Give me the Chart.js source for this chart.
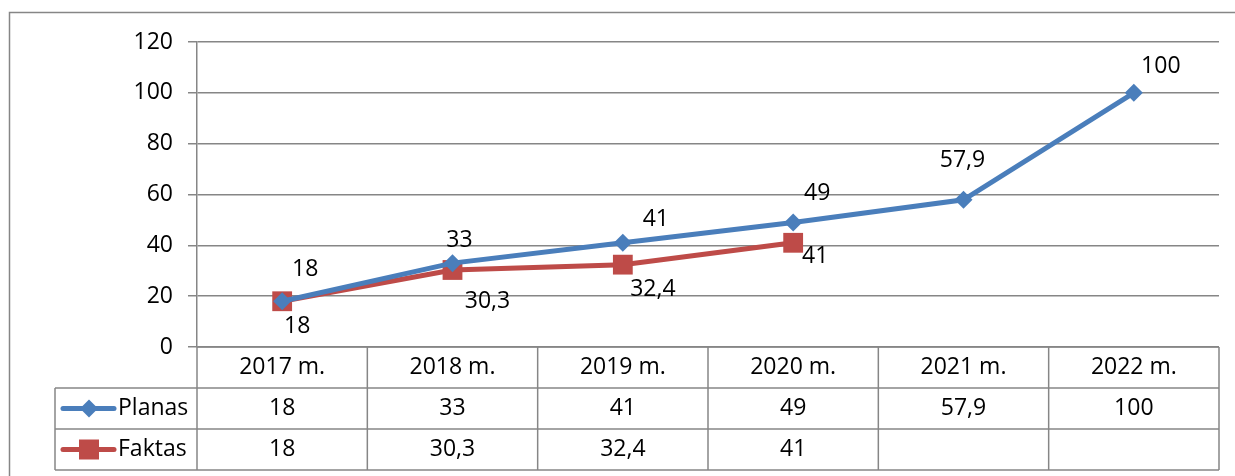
<!DOCTYPE html>
<html>
<head>
<meta charset="utf-8">
<script src="https://cdn.jsdelivr.net/npm/chart.js@4/dist/chart.umd.min.js"></script>
<style>
html, body { margin: 0; padding: 0; background: #fff; }
#wrap { width: 1235px; height: 476px; position: relative; }
</style>
</head>
<body>
<div id="wrap"><canvas id="chart"></canvas></div>
<script>
// chart data
const years = ['2017 m.', '2018 m.', '2019 m.', '2020 m.', '2021 m.', '2022 m.'];
const planas = [18, 33, 41, 49, 57.9, 100];
const faktas = [18, 30.3, 32.4, 41, null, null];
const y_ticks = [0, 20, 40, 60, 80, 100, 120];

const series_names = ['Planas', 'Faktas'];

const blue = '#4A7EBB';
const red = '#BE4B48';
const grid_color = '#868686';
const font_family = '"Open Sans", "Noto Sans", sans-serif';
const font_size = 23;

// manual label shifts (like the moved labels in the original)
const label_shift = {
	Planas: [[23, -32], [7, -23], [33, -23], [24, -29], [-1, -39], [27, -26]],
	Faktas: [[15, 25], [35, 31], [30, 25], [22, 14]]
};

function toComma(v) {
	return String(v).replace('.', ',');
}

function drawMarker(ctx, style, x, y, color) {
	ctx.save();
	ctx.fillStyle = color;
	ctx.beginPath();
	if (style === 'rectRot') {
		const r = 9;
		ctx.moveTo(x - r, y);
		ctx.lineTo(x, y - r);
		ctx.lineTo(x + r, y);
		ctx.lineTo(x, y + r);
		ctx.closePath();
	} else {
		const s = 10;
		ctx.rect(x - s, y - s, s * 2, s * 2);
	}
	ctx.fill();
	ctx.restore();
}

// outer frame of the chart
const frame_plugin = {
	id: 'frame',
	beforeDraw(chart) {
		const ctx = chart.ctx;
		ctx.save();
		ctx.strokeStyle = grid_color;
		ctx.lineWidth = 1.5;
		ctx.strokeRect(9.5, 12.5, 1260, 500);
		ctx.restore();
	}
};

// value labels next to the points
const labels_plugin = {
	id: 'valueLabels',
	afterDatasetsDraw(chart) {
		const ctx = chart.ctx;
		ctx.save();
		ctx.font = `${font_size}px ${font_family}`;
		ctx.fillStyle = '#000';
		ctx.textAlign = 'center';
		ctx.textBaseline = 'middle';
		chart.data.datasets.forEach((ds, i) => {
			const meta = chart.getDatasetMeta(i);
			meta.data.forEach((pt, j) => {
				const v = ds.data[j];
				if (v === null) return;
				const shift = label_shift[ds.label][j];
				ctx.fillText(toComma(v), pt.x + shift[0], pt.y + shift[1]);
			});
		});
		ctx.restore();
	}
};

// data table under the plot
const table_plugin = {
	id: 'dataTable',
	afterDraw(chart) {
		const ctx = chart.ctx;
		const area = chart.chartArea;
		const xs = chart.scales.x;
		const half = (xs.getPixelForValue(1) - xs.getPixelForValue(0)) / 2;
		const row_h = 41;
		const top = area.bottom;
		const left_col = 55;
		const bottom = top + row_h * 3;

		ctx.save();
		ctx.strokeStyle = grid_color;
		ctx.lineWidth = 1.5;
		ctx.beginPath();
		// horizontal lines
		ctx.moveTo(area.left, top);
		ctx.lineTo(area.right, top);
		for (let r = 1; r <= 3; r++) {
			ctx.moveTo(left_col, top + row_h * r);
			ctx.lineTo(area.right, top + row_h * r);
		}
		// vertical lines
		ctx.moveTo(left_col, top + row_h);
		ctx.lineTo(left_col, bottom);
		ctx.moveTo(area.left, top);
		ctx.lineTo(area.left, bottom);
		years.forEach((y, i) => {
			const xr = xs.getPixelForValue(i) + half;
			ctx.moveTo(xr, top);
			ctx.lineTo(xr, bottom);
		});
		ctx.stroke();

		ctx.font = `${font_size}px ${font_family}`;
		ctx.fillStyle = '#000';
		ctx.textBaseline = 'middle';
		ctx.textAlign = 'center';
		years.forEach((y, i) => {
			const cx = xs.getPixelForValue(i);
			ctx.fillText(y, cx, top + row_h / 2);
			ctx.fillText(toComma(planas[i]), cx, top + row_h * 1.5);
			if (faktas[i] !== null) {
				ctx.fillText(toComma(faktas[i]), cx, top + row_h * 2.5);
			}
		});

		// legend keys
		chart.data.datasets.forEach((ds, i) => {
			const cy = top + row_h * (1.5 + i);
			ctx.strokeStyle = ds.borderColor;
			ctx.lineWidth = 5;
			ctx.lineCap = 'round';
			ctx.beginPath();
			ctx.moveTo(63, cy);
			ctx.lineTo(114, cy);
			ctx.stroke();
			drawMarker(ctx, ds.pointStyle, 89, cy, ds.borderColor);
			ctx.textAlign = 'left';
			ctx.fillText(ds.label, 118, cy);
		});
		ctx.restore();
	}
};

const ctx = document.getElementById('chart');

new Chart(ctx, {
	type: 'line',
	data: {
		labels: years,
		datasets: [
			{
				label: series_names[0],
				data: planas,
				borderColor: blue,
				backgroundColor: blue,
				borderWidth: 5,
				pointStyle: 'rectRot',
				pointRadius: 9,
				pointBorderWidth: 0,
				tension: 0
			},
			{
				label: series_names[1],
				data: faktas,
				borderColor: red,
				backgroundColor: red,
				borderWidth: 5,
				pointStyle: 'rect',
				pointRadius: 14,
				pointBorderWidth: 0,
				tension: 0
			}
		]
	},
	options: {
		responsive: true,
		maintainAspectRatio: false,
		animation: false,
		devicePixelRatio: 1,
		layout: {
			padding: { top: 42, right: 16, bottom: 129, left: 0 }
		},
		plugins: {
			legend: { display: false },
			tooltip: { enabled: false }
		},
		scales: {
			x: {
				display: false,
				offset: true
			},
			y: {
				min: 0,
				max: 120,
				afterBuildTicks(scale) {
					scale.ticks = y_ticks.map(v => ({ value: v }));
				},
				afterFit(scale) {
					scale.width = 197;
				},
				grid: {
					color: grid_color,
					lineWidth: 1.5,
					tickLength: 9
				},
				border: { display: true, color: grid_color, width: 1.5 },
				ticks: {
					color: '#000',
					padding: 15,
					font: { family: font_family, size: font_size }
				}
			}
		}
	},
	plugins: [frame_plugin, labels_plugin, table_plugin]
});
</script>
</body>
</html>
